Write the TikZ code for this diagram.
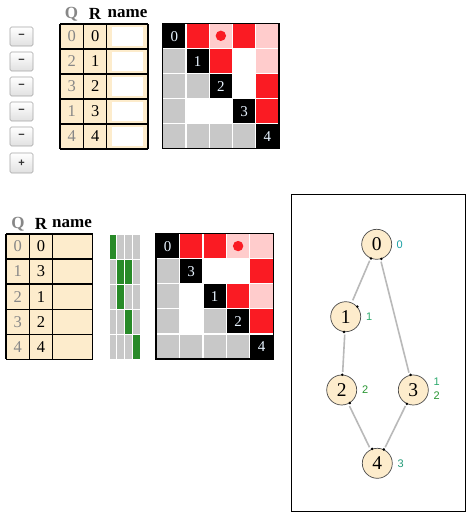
\documentclass[tikz,border=0pt]{standalone}
\usepackage{fontspec}
\setmainfont{Liberation Serif}
\newfontfamily\labfont{Liberation Sans}
\definecolor{tanc}{RGB}{253,236,204}
\definecolor{redc}{RGB}{250,27,35}
\definecolor{pinkc}{RGB}{255,204,204}
\definecolor{grayc}{RGB}{200,200,200}
\definecolor{greenc}{RGB}{40,138,40}
\definecolor{edgec}{RGB}{185,185,185}
\definecolor{qgray}{RGB}{135,135,135}
\definecolor{diagtxt}{RGB}{232,244,255}
\definecolor{labA}{RGB}{25,160,165}
\definecolor{labB}{RGB}{45,170,110}
\definecolor{labC}{RGB}{40,150,50}
\definecolor{labD}{RGB}{35,155,120}
\tikzset{
  btn/.style={draw=black!35, rounded corners=1.5pt, top color=white, bottom color=black!12, line width=0.6pt},
  btntxt/.style={font=\labfont\fontsize{11}{11}\selectfont\bfseries, text=black!80},
  tabline/.style={draw=black, line width=1.3pt},
  hdr/.style={font=\fontsize{17}{17}\selectfont\bfseries},
  qnum/.style={font=\fontsize{16.5}{16.5}\selectfont, text=qgray},
  rnum/.style={font=\fontsize{16.5}{16.5}\selectfont, text=black},
  dnum/.style={font=\fontsize{15}{15}\selectfont, text=diagtxt},
  gnode/.style={circle, draw=black!70, fill=tanc, line width=0.7pt, minimum size=30pt, inner sep=0pt, font=\fontsize{19.5}{19.5}\selectfont},
  gedge/.style={draw=edgec, line width=1.6pt, shorten <=2.5pt, shorten >=2.5pt},
  glab/.style={font=\labfont\fontsize{11}{11}\selectfont, anchor=west, inner sep=0pt},
  port/.style={fill=black}
}
\newcommand{\mcell}[5]{% x0 y0 w h color
  \fill[#5] (#1+0.6,#2+0.6) rectangle (#1+#3-0.6,#2+#4-0.6);}
\begin{document}
\begin{tikzpicture}[x=1pt,y=-1pt]
\useasboundingbox (0,0) rectangle (474,522);
\fill[white] (0,0) rectangle (474,522);

% ---------------- buttons
\foreach \i/\y in {1/27,2/52,3/77,4/102,5/127}{
  \draw[btn] (10,\y) rectangle (33,\y+19);
  \node[btntxt] (bm\i) at (21.5,\y+9.5) {−};
}
\draw[btn] (10,153) rectangle (33,173);
\node[btntxt] (bp) at (21.5,163) {+};

% ---------------- top table
\fill[tanc] (60,24) rectangle (148,149);
\foreach \k in {0,...,4}{
  \fill[white] (111.7,27+25*\k) rectangle (142.7,46+25*\k);
}
\foreach \k in {0,...,5}{ \draw[tabline] (60,24+25*\k) -- (148,24+25*\k); }
\foreach \xx in {60,83.7,106.7,148}{ \draw[tabline] (\xx,24) -- (\xx,149); }
\node[hdr, text=qgray] (tq) at (71.5,14) {Q};
\node[hdr] (tr) at (95,14) {R};
\node[hdr] (tn) at (127.5,14) {name};
\foreach \q [count=\k from 0] in {0,2,3,1,4}{
  \node[qnum] at (71.8,36.5+25*\k) {\q};
  \node[rnum] at (95.2,36.5+25*\k) {\k};
}

% ---------------- top matrix
\def\mx{162.7}\def\my{23.3}\def\mw{23.26}\def\mh{25}
\foreach \r/\c/\col in {
 0/0/black,0/1/redc,0/2/pinkc,0/3/redc,0/4/pinkc,
 1/0/grayc,1/1/black,1/2/redc,1/3/white,1/4/pinkc,
 2/0/grayc,2/1/grayc,2/2/black,2/3/white,2/4/redc,
 3/0/grayc,3/1/white,3/2/white,3/3/black,3/4/redc,
 4/0/grayc,4/1/grayc,4/2/grayc,4/3/grayc,4/4/black}{
  \mcell{\mx+\mw*\c}{\my+\mh*\r}{\mw}{\mh}{\col}
}
\fill[redc] (\mx+\mw*2.5,\my+\mh*0.5) circle (5.2);
\draw[black, line width=1.5pt] (\mx,\my) rectangle (\mx+5*\mw,\my+5*\mh);
\foreach \k in {0,...,4}{
  \node[dnum] at (\mx+\mw*\k+\mw*0.5,\my+\mh*\k+\mh*0.52) {\k};
}

% ---------------- bottom table
\fill[tanc] (6,234) rectangle (92.7,359.3);
\foreach \k in {0,...,5}{ \draw[tabline] (6,234+25.05*\k) -- (92.7,234+25.05*\k); }
\foreach \xx in {6,29.3,52.7,92.7}{ \draw[tabline] (\xx,234) -- (\xx,359.3); }
\node[hdr, text=qgray] (bq) at (18,224) {Q};
\node[hdr] (br) at (41,224) {R};
\node[hdr] (bn) at (72,224) {name};
\foreach \rr [count=\k from 0] in {0,3,1,2,4}{
  \node[qnum] at (17.8,246.5+25.05*\k) {\k};
  \node[rnum] at (41,246.5+25.05*\k) {\rr};
}

% ---------------- green bars
\foreach \r/\c/\col in {
 0/0/greenc,0/1/grayc,0/2/grayc,0/3/grayc,
 1/0/grayc,1/1/greenc,1/2/greenc,1/3/grayc,
 2/0/grayc,2/1/greenc,2/2/grayc,2/3/grayc,
 3/0/grayc,3/1/grayc,3/2/greenc,3/3/grayc,
 4/0/grayc,4/1/grayc,4/2/grayc,4/3/greenc}{
  \fill[\col] (109+7.75*\c+0.5,235+25*\r) rectangle (109+7.75*\c+7.25,235+25*\r+23.8);
}

% ---------------- bottom matrix
\def\nx{156}\def\ny{233.5}\def\nw{23.46}\def\nh{25.1}
\foreach \r/\c/\col in {
 0/0/black,0/1/redc,0/2/redc,0/3/pinkc,0/4/pinkc,
 1/0/grayc,1/1/black,1/2/white,1/3/white,1/4/redc,
 2/0/grayc,2/1/white,2/2/black,2/3/redc,2/4/pinkc,
 3/0/grayc,3/1/white,3/2/grayc,3/3/black,3/4/redc,
 4/0/grayc,4/1/grayc,4/2/grayc,4/3/grayc,4/4/black}{
  \mcell{\nx+\nw*\c}{\ny+\nh*\r}{\nw}{\nh}{\col}
}
\fill[redc] (\nx+\nw*3.5,\ny+\nh*0.5) circle (5.2);
\draw[black, line width=1.5pt] (\nx,\ny) rectangle (\nx+5*\nw,\ny+5*\nh);
\foreach \v [count=\k from 0] in {0,3,1,2,4}{
  \node[dnum] at (\nx+\nw*\k+\nw*0.5,\ny+\nh*\k+\nh*0.52) {\v};
}

% ---------------- graph panel
\draw[black, line width=1pt] (291.7,194) rectangle (465,511.7);
\node[gnode] (n0) at (376.7,244.3) {0};
\node[gnode] (n1) at (345.7,316.7) {1};
\node[gnode] (n2) at (341.7,390) {2};
\node[gnode] (n3) at (413.3,390) {3};
\node[gnode] (n4) at (377.3,463.3) {4};
\draw[gedge] (n0) -- (n1);
\draw[gedge] (n0) -- (n3);
\draw[gedge] (n1) -- (n2);
\draw[gedge] (n2) -- (n4);
\draw[gedge] (n3) -- (n4);
\foreach \n/\a in {n0/248,n0/288,n1/41,n1/264,n2/88,n2/302,n3/100,n3/245,n4/110,n4/65}{
  \fill[port] (\n.\a) circle (1.4);
}
\node[glab, text=labA] (l0) at (396.5,244.5) {0};
\node[glab, text=labB] (l1) at (366,317) {1};
\node[glab, text=labC] (l2) at (362,390) {2};
\node[glab, text=labB] (l3a) at (433.5,382) {1};
\node[glab, text=labC] (l3b) at (433.5,395.5) {2};
\node[glab, text=labD] (l4) at (397.5,463.5) {3};
\end{tikzpicture}
\end{document}
